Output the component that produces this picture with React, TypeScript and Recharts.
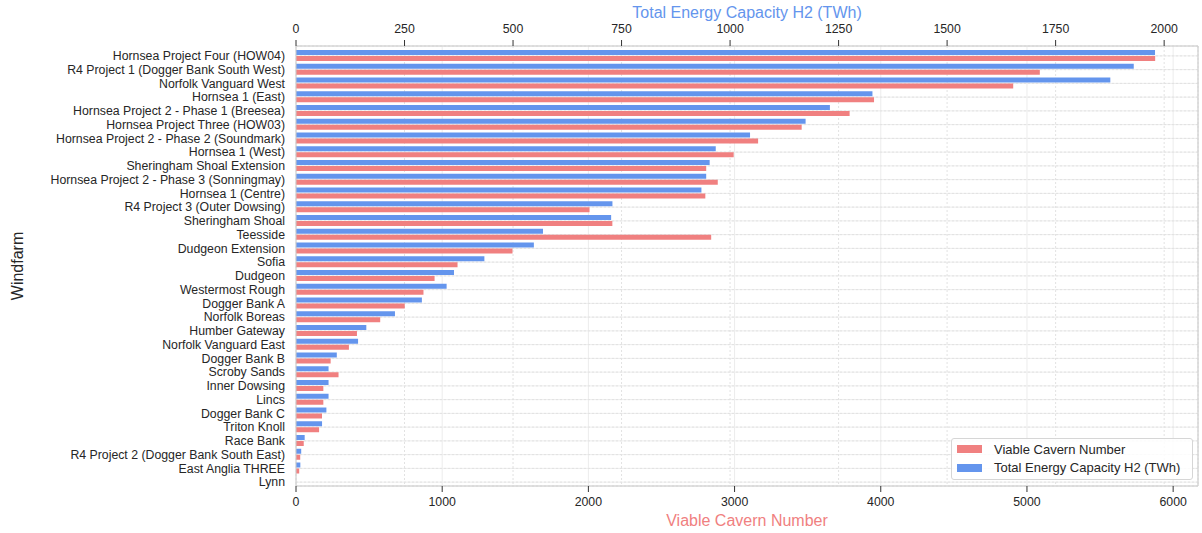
import { BarChart, Bar, XAxis, YAxis, CartesianGrid, Legend, Label } from 'recharts';

// windfarms, top to bottom
const windfarms = [
  'Hornsea Project Four (HOW04)',
  'R4 Project 1 (Dogger Bank South West)',
  'Norfolk Vanguard West',
  'Hornsea 1 (East)',
  'Hornsea Project 2 - Phase 1 (Breesea)',
  'Hornsea Project Three (HOW03)',
  'Hornsea Project 2 - Phase 2 (Soundmark)',
  'Hornsea 1 (West)',
  'Sheringham Shoal Extension',
  'Hornsea Project 2 - Phase 3 (Sonningmay)',
  'Hornsea 1 (Centre)',
  'R4 Project 3 (Outer Dowsing)',
  'Sheringham Shoal',
  'Teesside',
  'Dudgeon Extension',
  'Sofia',
  'Dudgeon',
  'Westermost Rough',
  'Dogger Bank A',
  'Norfolk Boreas',
  'Humber Gateway',
  'Norfolk Vanguard East',
  'Dogger Bank B',
  'Scroby Sands',
  'Inner Dowsing',
  'Lincs',
  'Dogger Bank C',
  'Triton Knoll',
  'Race Bank',
  'R4 Project 2 (Dogger Bank South East)',
  'East Anglia THREE',
  'Lynn',
];

// Total Energy Capacity H2 (TWh) - top axis
const capacityTWh = [
  1979, 1930, 1876, 1328, 1230, 1174, 1046, 967, 953, 945, 934, 729, 726, 569, 548, 434,
  364, 347, 290, 228, 162, 143, 94, 75, 75, 75, 70, 60, 20, 12, 10, 0,
];

// Viable Cavern Number - bottom axis
const cavernCount = [
  5877, 5088, 4906, 3954, 3787, 3459, 3161, 2994, 2806, 2885, 2800, 2008, 2164, 2840, 1481, 1105,
  948, 872, 744, 576, 417, 362, 237, 291, 187, 187, 178, 158, 53, 29, 22, 0,
];

const capacityTicks = [0, 250, 500, 750, 1000, 1250, 1500, 1750, 2000];
const cavernTicks = [0, 1000, 2000, 3000, 4000, 5000, 6000];

const data = windfarms.map((name, i) => ({
  name,
  capacity: capacityTWh[i],
  caverns: cavernCount[i],
}));

const RED = '#F08080';
const BLUE = '#6495ED';
const TEXT = '#262626';
const SPINE = '#cccccc';

const tickStyle = { fill: TEXT, fontSize: 12.3 };

// legend lists the red series first, like the original
const LegendBox = ({ payload }: any) => {
  const items = [...(payload || [])].reverse();
  return (
    <div
      style={{
        boxSizing: 'border-box',
        width: 242,
        height: 42,
        border: '1px solid #d6d6d6',
        borderRadius: 3,
        background: 'rgba(255,255,255,0.85)',
        padding: '1px 0 0 5px',
        fontSize: 13,
        color: TEXT,
      }}
    >
      {items.map((p: any) => (
        <div key={p.value} style={{ display: 'flex', alignItems: 'center', height: 18.4 }}>
          <span style={{ display: 'inline-block', width: 25, height: 8, background: p.color, marginRight: 12 }} />
          <span style={{ whiteSpace: 'nowrap' }}>{p.value}</span>
        </div>
      ))}
    </div>
  );
};

const WindfarmLabel = ({ viewBox }: any) => {
  const x = viewBox.x + 23;
  const y = viewBox.y + viewBox.height / 2;
  return (
    <text x={x} y={y} transform={`rotate(-90, ${x}, ${y})`} textAnchor="middle" fill={TEXT} fontSize={16}>
      Windfarm
    </text>
  );
};

export default function App() {
  return (
    <div style={{ position: 'absolute', left: 0, top: 0, background: '#fff', fontFamily: '"Liberation Sans", Arial, sans-serif' }}>
      <BarChart
        width={1202}
        height={533}
        data={data}
        layout="vertical"
        margin={{ top: 0, right: 0, bottom: 0, left: 0 }}
        barSize={5}
        barGap={1}
        style={{ fontFamily: '"Liberation Sans", Arial, sans-serif' }}
      >
        <CartesianGrid xAxisId="bottom" yAxisId="left" stroke="#ececec" />
        <CartesianGrid xAxisId="top" yAxisId="left" stroke="#e2e2e2" strokeDasharray="2 2" />

        <XAxis
          xAxisId="top"
          orientation="top"
          type="number"
          domain={[0, 2078]}
          ticks={capacityTicks}
          allowDataOverflow
          height={46}
          tick={tickStyle}
          tickSize={6}
          tickMargin={7}
          axisLine={{ stroke: SPINE }}
          tickLine={{ stroke: '#333' }}
        >
          <Label value="Total Energy Capacity H2 (TWh)" position="insideTop" offset={7} fill={BLUE} fontSize={16} />
        </XAxis>
        <XAxis
          xAxisId="bottom"
          orientation="bottom"
          type="number"
          domain={[0, 6170]}
          ticks={cavernTicks}
          allowDataOverflow
          height={47}
          tick={tickStyle}
          tickSize={6}
          tickMargin={5}
          axisLine={{ stroke: SPINE }}
          tickLine={{ stroke: '#333' }}
        >
          <Label value="Viable Cavern Number" position="insideBottom" offset={7} fill={RED} fontSize={16} />
        </XAxis>
        <YAxis
          yAxisId="left"
          type="category"
          dataKey="name"
          width={296}
          interval={0}
          padding={{ top: 3, bottom: -3 }}
          tick={tickStyle}
          tickLine={false}
          tickSize={6}
          tickMargin={5}
          axisLine={{ stroke: SPINE }}
        >
          <Label content={<WindfarmLabel />} />
        </YAxis>
        <YAxis
          yAxisId="right"
          orientation="right"
          type="category"
          dataKey="name"
          width={4}
          tick={false}
          tickLine={false}
          axisLine={{ stroke: SPINE }}
        />

        <Bar
          dataKey="capacity"
          name="Total Energy Capacity H2 (TWh)"
          xAxisId="top"
          yAxisId="left"
          fill={BLUE}
          isAnimationActive={false}
        />
        <Bar
          dataKey="caverns"
          name="Viable Cavern Number"
          xAxisId="bottom"
          yAxisId="left"
          fill={RED}
          isAnimationActive={false}
        />

        <Legend
          layout="horizontal"
          verticalAlign="middle"
          align="center"
          content={<LegendBox />}
          wrapperStyle={{ left: 951, top: 438, width: 242 }}
        />
      </BarChart>
    </div>
  );
}
